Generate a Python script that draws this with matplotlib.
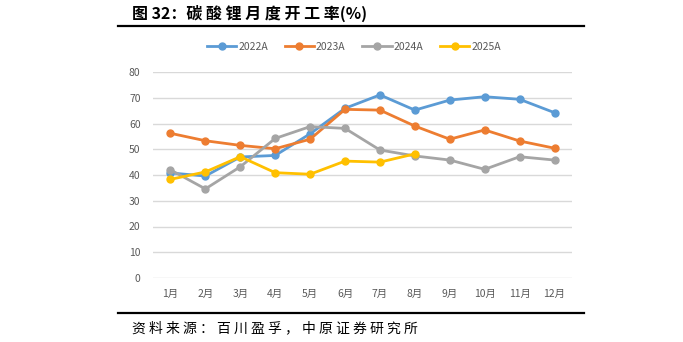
import matplotlib
matplotlib.use("Agg")
import matplotlib.pyplot as plt
from matplotlib.lines import Line2D

plt.rcParams['font.family'] = ['Noto Sans CJK SC', 'DejaVu Sans']

# dados
meses = ["1月", "2月", "3月", "4月", "5月", "6月", "7月", "8月", "9月", "10月", "11月", "12月"]
s2022 = [40.8, 39.6, 47.0, 47.6, 56.0, 65.9, 71.1, 65.2, 69.1, 70.4, 69.4, 64.2]
s2023 = [56.2, 53.3, 51.5, 50.2, 53.9, 65.5, 65.2, 59.0, 53.9, 57.5, 53.2, 50.4]
s2024 = [42.0, 34.6, 43.2, 54.2, 58.8, 58.1, 49.7, 47.4, 45.8, 42.2, 47.1, 45.8]
s2025 = [38.3, 41.2, 47.1, 40.9, 40.3, 45.4, 45.0, 48.2]
nomes = ["2022A", "2023A", "2024A", "2025A"]
cores = ["#5B9BD5", "#ED7D31", "#A5A5A5", "#FFC000"]

W, H = 683, 342
fig = plt.figure(figsize=(W / 100, H / 100), dpi=100)
ax = fig.add_axes([153 / W, (H - 278) / H, (572 - 153) / W, (278 - 72) / H])

x = list(range(len(meses)))
for serie, nome, cor in zip([s2022, s2023, s2024, s2025], nomes, cores):
    ax.plot(x[:len(serie)], serie, color=cor, lw=2.0, marker="o", ms=5, label=nome)

ax.set_xlim(-0.5, 11.5)
ax.set_ylim(0, 80)
ax.set_yticks(range(0, 81, 10))
ax.set_xticks(x)
ax.set_xticklabels(meses)
ax.yaxis.grid(True, color="#D9D9D9", lw=1)
ax.set_axisbelow(True)
for s in ax.spines.values():
    s.set_visible(False)
ax.tick_params(length=0, colors="#595959", labelsize=7.5)
ax.tick_params(axis="y", pad=9)
ax.tick_params(axis="x", pad=8)

alcas = [Line2D([0], [0], color=c, lw=2.0, marker="o", ms=5) for c in cores]
fig.legend(alcas, nomes, loc="center", bbox_to_anchor=(354 / W, 1 - 47 / H), ncol=4,
           frameon=False, fontsize=7.5, handlelength=2.8, columnspacing=1.6,
           handletextpad=0.2, labelcolor="#595959")

# título e linhas (espaços imitam o espaçamento entre caracteres do original)
fig.text(132 / W, 1 - 13 / H, "图 32：" + " ".join("碳酸锂月度开工率") + "(%)", fontsize=11.5,
         fontweight="bold", va="center", ha="left", color="black")
fig.add_artist(Line2D([118 / W, 584 / W], [1 - 26 / H, 1 - 26 / H], color="black", lw=1.6))
fig.add_artist(Line2D([118 / W, 584 / W], [1 - 313 / H, 1 - 313 / H], color="black", lw=1.6))
fig.text(132 / W, 1 - 328 / H, " ".join("资料来源：百川盈孚，中原证券研究所"), fontsize=10,
         va="center", ha="left", color="black")

fig.savefig("out.png", dpi=100)
